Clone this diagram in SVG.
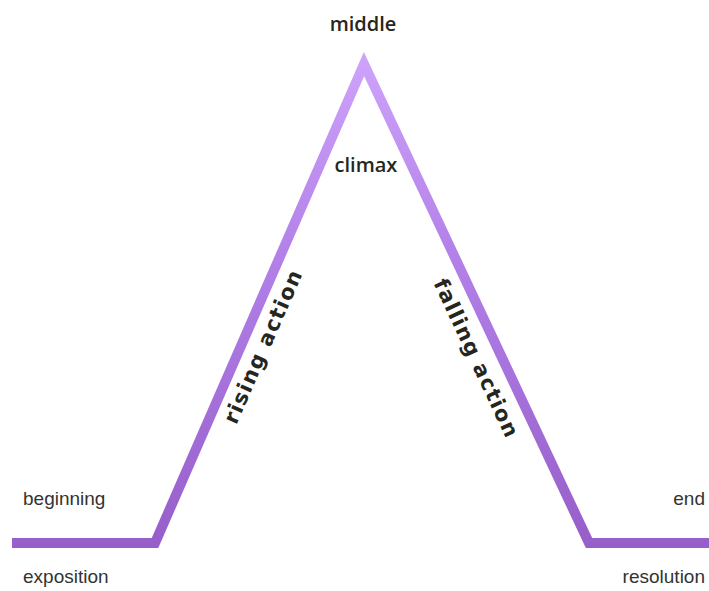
<svg xmlns="http://www.w3.org/2000/svg" width="709" height="591" viewBox="0 0 709 591">
  <defs>
    <linearGradient id="plotGrad" gradientUnits="userSpaceOnUse" x1="0" y1="52" x2="0" y2="548">
      <stop offset="0" stop-color="#cfa3fb"/>
      <stop offset="0.45" stop-color="#b07ee6"/>
      <stop offset="1" stop-color="#975ec9"/>
    </linearGradient>
    <style>
      .plot { fill: none; stroke: url(#plotGrad); stroke-width: 10; stroke-linejoin: miter; stroke-miterlimit: 10; }
      .head { font-family: "Open Sans", "DejaVu Sans", sans-serif; font-weight: 600; font-size: 20px; fill: #262620; text-anchor: middle; }
      .side { font-family: "Liberation Sans", Arial, sans-serif; font-size: 19px; fill: #333333; }
      .slope { font-family: "DejaVu Sans", Verdana, sans-serif; font-weight: bold; font-size: 21px; fill: #262620; text-anchor: middle; }
    </style>
  </defs>
  <rect width="709" height="591" fill="#ffffff"/>
  <g id="connectors">
    <polyline class="plot" points="12,543 155,543 364,64 589,543 709,543"/>
  </g>
  <g id="middle"><text class="head" x="363" y="31">middle</text></g>
  <g id="climax"><text class="head" x="366" y="172">climax</text></g>
  <g id="beginning"><text class="side" x="23" y="505">beginning</text></g>
  <g id="exposition"><text class="side" x="23" y="583">exposition</text></g>
  <g id="end"><text class="side" x="705" y="505" text-anchor="end">end</text></g>
  <g id="resolution"><text class="side" x="705" y="583" text-anchor="end">resolution</text></g>
  <g id="rising-action" transform="translate(263,347) rotate(-66.3)">
    <text class="slope" x="0" y="7" textLength="165" lengthAdjust="spacing">rising action</text>
  </g>
  <g id="falling-action" transform="translate(476,358) rotate(65)">
    <text class="slope" x="0" y="7" textLength="172" lengthAdjust="spacing">falling action</text>
  </g>
</svg>
